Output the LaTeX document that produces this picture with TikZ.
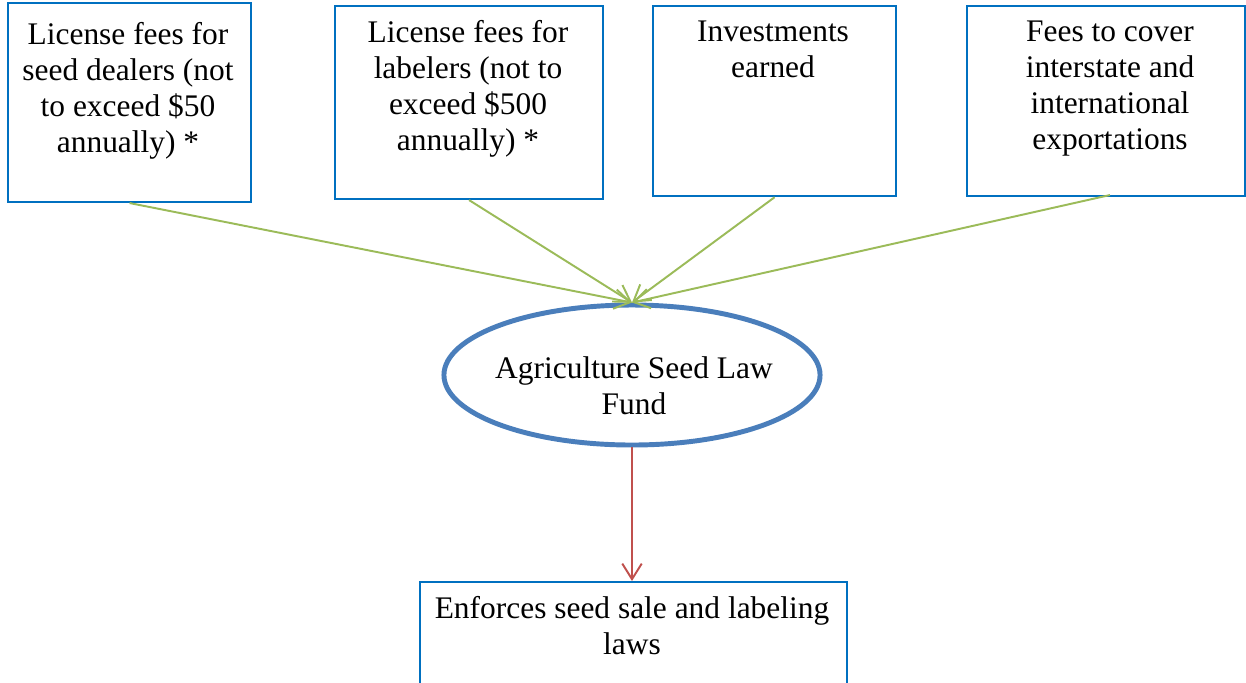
\documentclass[tikz,border=0pt]{standalone}
\usepackage{fontspec}
\setmainfont{Liberation Serif}
\usetikzlibrary{arrows.meta,shapes.geometric}
\definecolor{boxblue}{RGB}{0,112,192}
\definecolor{ellblue}{RGB}{74,126,187}
\definecolor{arrgreen}{RGB}{155,187,89}
\definecolor{arrred}{RGB}{192,80,77}
\tikzset{
  box/.style={draw=boxblue, line width=0.8pt, anchor=north west, inner sep=0pt},
  txt/.style={anchor=north, align=center, inner sep=0pt, font=\fontsize{12.1}{13.9}\selectfont},
  fund/.style={ellipse, draw=ellblue, line width=1.9pt, minimum width=144.8pt, minimum height=53.9pt, inner sep=0pt},
  garrow/.style={draw=arrgreen, line width=0.75pt, -{Straight Barb[length=6pt,width=7.5pt]}},
  rarrow/.style={draw=arrred, line width=0.75pt, -{Straight Barb[length=6pt,width=7.5pt]}}
}
\begin{document}
\begin{tikzpicture}[x=0.385pt,y=-0.385pt]
\clip (0,0) rectangle (1246,682);
\node[box, minimum width=93.6pt, minimum height=76.6pt] (b1) at (7,2) {};
\node[box, minimum width=103.2pt, minimum height=74.3pt] (b2) at (334,5) {};
\node[box, minimum width=93.6pt, minimum height=73.2pt] (b3) at (652,5) {};
\node[box, minimum width=107.0pt, minimum height=73.2pt] (b4) at (966,5) {};
\node[box, minimum width=164.4pt, minimum height=50pt] (b5) at (419,581) {};
\node[txt] (t1) at (128,22) {License fees for\\seed dealers (not\\to exceed \$50\\annually) *};
\node[txt] (t2) at (468,20) {License fees for\\labelers (not to\\exceed \$500\\annually) *};
\node[txt] (t3) at (773,20) {Investments\\earned};
\node[txt] (t4) at (1110,20) {Fees to cover\\interstate and\\international\\exportations};
\node[fund] (e) at (632,375) {};
\node[txt] (te) at (634,356) {Agriculture Seed Law\\Fund};
\node[txt] (t5) at (632,596) {Enforces seed sale and labeling\\laws};
\coordinate (s4) at (1110,195);
\draw[garrow] (b1.south) -- (e.north);
\draw[garrow] (b2.south) -- (e.north);
\draw[garrow] (b3.south) -- (e.north);
\draw[garrow] (s4) -- (e.north);
\draw[rarrow] (e.south) -- (e.south |- b5.north);
\end{tikzpicture}
\end{document}
